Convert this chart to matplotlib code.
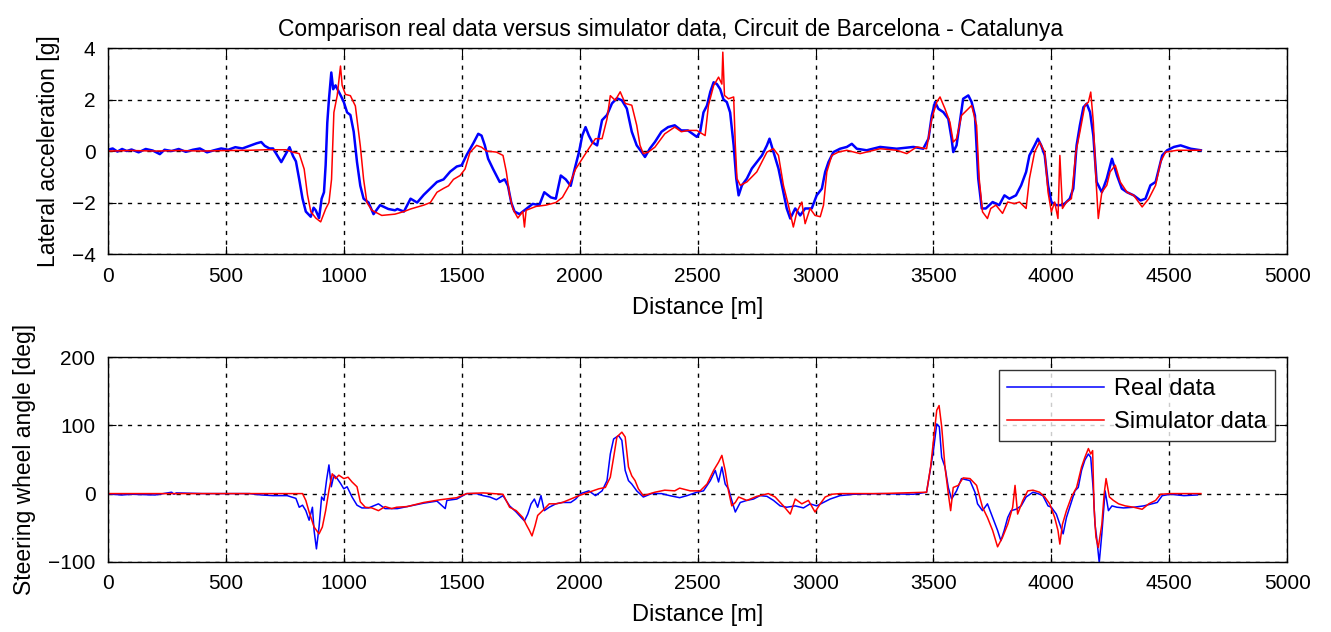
import matplotlib
matplotlib.use("Agg")
import matplotlib.pyplot as plt

plt.rcParams['font.family'] = ['Liberation Sans', 'DejaVu Sans']

# lateral acceleration [g], real data
acc_real_d = [0, 20, 40, 60, 80, 100, 130, 160, 190, 220, 240, 270, 300, 330, 360, 390, 420, 450,
              480, 510, 540, 570, 600, 630, 650, 665, 685, 700, 720, 735, 755, 770, 785, 797, 811,
              825, 839, 860, 872, 881, 895, 906, 916, 923, 930, 937, 947, 955, 965, 979, 990, 1000,
              1014, 1028, 1042, 1056, 1070, 1084, 1105, 1126, 1154, 1189, 1217, 1227, 1255, 1283,
              1311, 1339, 1367, 1395, 1423, 1451, 1479, 1500, 1521, 1549, 1570, 1584, 1598, 1612,
              1633, 1647, 1661, 1682, 1696, 1710, 1724, 1745, 1773, 1801, 1829, 1850, 1878, 1899,
              1920, 1941, 1962, 1976, 1997, 2011, 2025, 2039, 2053, 2074, 2095, 2116, 2137, 2158,
              2179, 2200, 2221, 2242, 2263, 2277, 2298, 2319, 2347, 2375, 2403, 2431, 2459, 2497,
              2511, 2525, 2540, 2554, 2568, 2582, 2596, 2610, 2624, 2638, 2653, 2664, 2674, 2688,
              2709, 2730, 2751, 2773, 2794, 2805, 2822, 2843, 2864, 2878, 2893, 2914, 2935, 2956,
              2984, 3005, 3027, 3041, 3055, 3076, 3104, 3133, 3154, 3175, 3217, 3274, 3344, 3415,
              3457, 3479, 3493, 3507, 3521, 3542, 3563, 3577, 3584, 3598, 3612, 3626, 3648, 3662,
              3676, 3690, 3705, 3722, 3751, 3779, 3801, 3822, 3850, 3872, 3893, 3907, 3929, 3943,
              3957, 3972, 3986, 4000, 4021, 4050, 4078, 4093, 4107, 4121, 4136, 4150, 4164, 4178,
              4192, 4214, 4235, 4257, 4278, 4299, 4321, 4349, 4378, 4399, 4420, 4442, 4456, 4470,
              4491, 4520, 4548, 4591, 4634]
acc_real = [0.05, 0.1, -0.02, 0.08, 0.0, 0.06, -0.05, 0.08, 0.02, -0.12, 0.05, 0.0, 0.08, -0.03,
            0.05, 0.1, -0.05, 0.03, 0.1, 0.05, 0.15, 0.1, 0.2, 0.3, 0.35, 0.2, 0.1, 0.1, -0.2, -0.43,
            -0.1, 0.15, -0.2, -0.4, -1.1, -1.85, -2.35, -2.55, -2.2, -2.3, -2.6, -1.85, -1.6, -0.55,
            1.1, 2.0, 3.05, 2.4, 2.55, 2.3, 2.1, 1.9, 1.5, 1.4, 0.75, -0.43, -1.35, -1.85, -2.0,
            -2.45, -2.1, -2.25, -2.3, -2.25, -2.35, -1.85, -2.0, -1.7, -1.45, -1.2, -1.1, -0.8,
            -0.6, -0.55, -0.15, 0.3, 0.67, 0.6, 0.22, -0.3, -0.7, -0.95, -1.2, -1.1, -1.35, -2.0,
            -2.35, -2.45, -2.25, -2.05, -2.1, -1.6, -1.8, -1.85, -0.95, -1.1, -1.35, -0.8, -0.05,
            0.6, 0.93, 0.6, 0.35, 0.22, 1.2, 1.4, 1.85, 2.05, 1.97, 1.65, 0.75, 0.22, -0.04, -0.23,
            0.1, 0.35, 0.75, 0.93, 1.0, 0.8, 0.8, 0.55, 0.75, 1.5, 1.77, 2.3, 2.67, 2.6, 2.4, 2.0,
            1.9, 1.5, 0.22, -1.07, -1.72, -1.33, -1.07, -0.68, -0.43, -0.17, 0.22, 0.48, -0.04,
            -0.68, -1.6, -2.23, -2.62, -2.23, -2.5, -2.23, -2.23, -1.72, -1.46, -0.81, -0.43, -0.04,
            0.09, 0.16, 0.28, 0.09, 0.03, 0.16, 0.09, 0.16, 0.09, 0.48, 1.38, 1.9, 1.64, 1.51,
            1.25, 0.48, -0.04, 0.22, 1.12, 2.03, 2.16, 1.9, 1.38, -1.07, -2.23, -2.23, -1.98, -2.1,
            -1.72, -1.85, -1.72, -1.33, -0.81, -0.17, 0.22, 0.48, 0.22, -0.17, -1.33, -1.98, -2.1,
            -2.1, -1.85, -1.46, 0.22, 1.0, 1.7, 1.84, 1.51, 0.6, -1.2, -1.6, -1.07, -0.3, -0.94,
            -1.46, -1.6, -1.72, -1.92, -1.85, -1.33, -1.2, -0.68, -0.17, 0.03, 0.16, 0.22, 0.09,
            0.03]

# lateral acceleration [g], simulator data
acc_sim_d = [0, 100, 200, 300, 400, 500, 600, 670, 720, 755, 783, 811, 832, 846, 860, 881, 902,
             923, 937, 948, 958, 972, 986, 993, 1007, 1028, 1049, 1070, 1084, 1098, 1119, 1161,
             1217, 1255, 1283, 1339, 1367, 1395, 1423, 1444, 1465, 1493, 1514, 1535, 1563, 1584,
             1605, 1647, 1675, 1689, 1703, 1717, 1738, 1759, 1766, 1773, 1815, 1857, 1899, 1927,
             1955, 1983, 2011, 2039, 2067, 2095, 2116, 2130, 2151, 2172, 2193, 2221, 2242, 2256,
             2270, 2291, 2319, 2361, 2403, 2431, 2459, 2497, 2532, 2546, 2568, 2589, 2603, 2607,
             2614, 2631, 2653, 2660, 2667, 2681, 2709, 2751, 2794, 2822, 2843, 2864, 2885, 2906,
             2921, 2942, 2956, 2977, 2998, 3020, 3034, 3048, 3069, 3097, 3133, 3189, 3274, 3344,
             3387, 3429, 3471, 3493, 3514, 3528, 3549, 3570, 3584, 3598, 3619, 3641, 3662, 3683,
             3694, 3708, 3729, 3743, 3765, 3793, 3815, 3843, 3865, 3893, 3907, 3929, 3950, 3972,
             3986, 4000, 4014, 4028, 4036, 4047, 4064, 4085, 4104, 4121, 4142, 4157, 4167, 4178,
             4189, 4199, 4214, 4235, 4249, 4271, 4292, 4321, 4349, 4385, 4413, 4442, 4463, 4484,
             4534, 4634]
acc_sim = [0.0, 0.02, 0.0, 0.02, 0.0, 0.02, 0.03, 0.05, 0.05, 0.05, -0.04, -0.1, -0.7, -1.7,
           -2.35, -2.6, -2.75, -2.25, -2.0, -1.1, 1.5, 2.15, 3.3, 2.55, 2.2, 2.15, 1.75, 0.2, -1.1,
           -2.0, -2.3, -2.5, -2.45, -2.35, -2.25, -2.1, -2.0, -1.6, -1.45, -1.35, -1.1, -0.95,
           -0.7, -0.05, 0.22, 0.15, 0.0, -0.04, -0.17, -0.8, -1.7, -2.25, -2.6, -2.35, -2.95,
           -2.3, -2.15, -2.1, -2.0, -1.8, -1.35, -0.7, -0.3, 0.1, 0.48, 0.48, 1.25, 2.15, 1.97,
           2.3, 1.85, 1.78, 1.0, 0.22, -0.1, -0.04, 0.15, 0.67, 0.93, 0.75, 0.8, 0.8, 0.6, 1.77,
           2.54, 2.87, 2.6, 3.84, 2.16, 2.03, 2.1, 0.22, -1.07, -1.33, -1.2, -0.81, -0.04, 0.09,
           -0.17, -1.33, -2.1, -2.95, -2.36, -1.98, -2.82, -2.23, -2.5, -2.55, -2.1, -0.81, -0.17,
           -0.04, 0.03, -0.1, 0.09, 0.03, -0.1, 0.16, 0.09, 1.25, 1.9, 2.1, 1.64, 1.12, 0.35,
           0.48, 1.38, 1.58, 1.77, 1.0, -1.07, -2.36, -2.62, -2.23, -2.1, -2.42, -1.98, -2.04,
           -1.98, -2.23, -1.07, -0.04, 0.35, -0.04, -1.6, -2.36, -1.98, -2.62, -0.17, -2.23,
           -1.98, -1.85, -0.04, 0.74, 1.77, 1.9, 2.29, 1.12, -1.07, -2.62, -1.6, -1.33, -0.81,
           -0.55, -1.2, -1.6, -1.72, -2.17, -1.85, -1.33, -0.43, -0.04, 0.03, 0.03]

# steering wheel angle [deg], real data
steer_real_d = [0, 20, 60, 100, 200, 270, 280, 290, 400, 600, 650, 700, 760, 797, 811, 825, 839,
                853, 867, 874, 884, 895, 906, 916, 927, 937, 947, 958, 972, 986, 1000, 1014, 1035,
                1056, 1077, 1105, 1147, 1175, 1217, 1227, 1283, 1339, 1395, 1430, 1437, 1479, 1521,
                1563, 1591, 1619, 1647, 1675, 1703, 1731, 1752, 1766, 1780, 1794, 1808, 1822, 1836,
                1850, 1871, 1899, 1927, 1962, 1983, 2004, 2039, 2067, 2095, 2116, 2130, 2144, 2165,
                2179, 2193, 2207, 2221, 2242, 2270, 2305, 2347, 2382, 2424, 2455, 2497, 2525, 2554,
                2575, 2589, 2603, 2617, 2631, 2645, 2660, 2681, 2709, 2737, 2765, 2794, 2822, 2850,
                2878, 2914, 2949, 2977, 3005, 3034, 3062, 3104, 3161, 3274, 3415, 3471, 3486, 3500,
                3514, 3525, 3535, 3549, 3563, 3577, 3598, 3619, 3655, 3676, 3687, 3708, 3729, 3751,
                3772, 3786, 3800, 3815, 3829, 3850, 3872, 3893, 3922, 3943, 3964, 3986, 4000, 4021,
                4036, 4050, 4064, 4078, 4100, 4114, 4128, 4142, 4157, 4167, 4178, 4185, 4192, 4203,
                4214, 4228, 4242, 4257, 4278, 4306, 4349, 4392, 4427, 4449, 4470, 4505, 4562, 4619]
steer_real = [0, -1, -2, -1, -2, 2, -1, 1, 0, 0, -2, -3, -3, -7, -20, -17, -25, -39, -20, -54,
              -81, -49, -5, -10, 20, 42, 10, 27, 22, 15, 7, 10, -5, -17, -21, -21, -15, -22, -22,
              -22, -18, -14, -11, -22, -10, -8, 0, 0, -3, -5, -9, -3, -18, -27, -35, -40, -30, -15,
              -8, -20, -3, -25, -20, -15, -13, -13, -8, 0, 4, -3, 4, 19, 58, 80, 85, 78, 34, 19,
              14, 4, -5, 0, 0, -3, -6, -3, 2, 4, 19, 34, 17, 39, 14, 7, -10, -27, -13, -10, -8, -3,
              -4, -10, -18, -20, -18, -21, -15, -18, -13, -8, -3, -1, 0, -1, 2, 34, 63, 102, 98,
              53, 39, 9, -8, 4, 22, 19, 2, -15, -25, -15, -35, -54, -69, -54, -35, -25, -23, -18,
              -5, 2, 0, -3, -18, -20, -30, -45, -59, -35, -20, 4, 9, 34, 49, 58, 53, 4, -45, -64,
              -101, -59, 4, -25, -18, -20, -21, -20, -18, -15, -13, -3, -1, -3, -2]

# steering wheel angle [deg], simulator data
steer_sim_d = [0, 825, 839, 853, 874, 895, 909, 923, 937, 951, 965, 979, 1000, 1018, 1035, 1056,
               1070, 1091, 1119, 1147, 1175, 1203, 1224, 1269, 1339, 1409, 1479, 1521, 1591, 1675,
               1703, 1731, 1759, 1773, 1787, 1798, 1811, 1822, 1843, 1871, 1899, 1927, 1962, 1997,
               2039, 2081, 2109, 2130, 2144, 2158, 2179, 2193, 2207, 2221, 2235, 2249, 2270, 2319,
               2361, 2403, 2424, 2469, 2511, 2540, 2568, 2589, 2603, 2617, 2631, 2645, 2660, 2674,
               2709, 2751, 2800, 2829, 2864, 2893, 2914, 2942, 2970, 2998, 3020, 3041, 3069, 3104,
               3274, 3471, 3488, 3500, 3514, 3524, 3535, 3549, 3563, 3573, 3584, 3605, 3626, 3655,
               3683, 3708, 3729, 3751, 3772, 3793, 3815, 3836, 3846, 3857, 3879, 3900, 3922, 3950,
               3972, 3993, 4014, 4028, 4036, 4047, 4064, 4085, 4107, 4128, 4142, 4157, 4167, 4175,
               4181, 4189, 4199, 4214, 4224, 4232, 4246, 4263, 4285, 4313, 4349, 4385, 4413, 4442,
               4463, 4505, 4634]
steer_sim = [0, 0, -10, -27, -49, -59, -49, -25, 5, 29, 22, 27, 22, 24, 17, 10, -12, -20, -21,
             -25, -19, -22, -20, -19, -13, -9, -6, 0, 1, -1, -20, -25, -35, -45, -54, -62, -47, -32,
             -25, -15, -15, -13, -8, -3, 2, 7, 9, 24, 53, 83, 90, 83, 39, 26, 19, 7, -3, 2, 5, 4,
             8, 4, 4, 14, 34, 46, 56, 34, 4, -18, -13, -5, -10, -4, 0, -5, -18, -30, -8, -15, -10,
             -27, -15, -5, -1, 0, 0, 2, 39, 78, 122, 129, 98, 39, 0, -25, 9, 12, 23, 22, 12, -20,
             -35, -54, -78, -64, -45, -20, 12, -30, -10, 4, 5, 2, -5, -15, -35, -54, -74, -45, -25,
             -5, 9, 39, 53, 66, 58, 63, -20, -64, -79, -45, 0, 22, -5, -10, -15, -18, -20, -23,
             -15, -10, -1, 0, 0]

fig = plt.figure(figsize=(13.31, 6.32), dpi=100)
ax1 = fig.add_axes([0.0811, 0.598, 0.886, 0.326])
ax2 = fig.add_axes([0.0811, 0.111, 0.886, 0.324])

grid_style = dict(color='black', linestyle=(0, (3, 4)), linewidth=1.0)

ax1.plot(acc_real_d, acc_real, color='#0000ff', linewidth=1.8, label='Real data')
ax1.plot(acc_sim_d, acc_sim, color='#ff0000', linewidth=1.1, label='Simulator data')
ax1.set_xlim(0, 5000)
ax1.set_ylim(-4, 4)
ax1.set_yticks([-4, -2, 0, 2, 4])
ax1.set_ylabel('Lateral acceleration [g]', fontsize=16.5, labelpad=8)
ax1.set_xlabel('Distance [m]', fontsize=17, labelpad=8)
ax1.set_title('Comparison real data versus simulator data, Circuit de Barcelona - Catalunya',
              fontsize=16.5, pad=9, x=0.477)

ax2.plot(steer_real_d, steer_real, color='#0000ff', linewidth=1.1, label='Real data')
ax2.plot(steer_sim_d, steer_sim, color='#ff0000', linewidth=1.1, label='Simulator data')
ax2.set_xlim(0, 5000)
ax2.set_ylim(-100, 200)
ax2.set_yticks([-100, 0, 100, 200])
ax2.set_ylabel('Steering wheel angle [deg]', fontsize=16.5, labelpad=9)
ax2.set_xlabel('Distance [m]', fontsize=17, labelpad=8)
leg = ax2.legend(loc='upper right', bbox_to_anchor=(0.99, 0.937), fontsize=17, frameon=True,
                 fancybox=False, edgecolor='black', handlelength=4.1, borderpad=0.35,
                 labelspacing=0.45, handletextpad=0.45, borderaxespad=0.0)
leg.get_frame().set_linewidth(1.0)

for ax in (ax1, ax2):
    ax.set_xticks(range(0, 5001, 500))
    ax.grid(True, **grid_style)
    ax.tick_params(direction='in', top=True, right=True, labelsize=15, length=6, pad=9)
    for sp in ax.spines.values():
        sp.set_linewidth(1.0)

fig.savefig('out.png', dpi=100)
